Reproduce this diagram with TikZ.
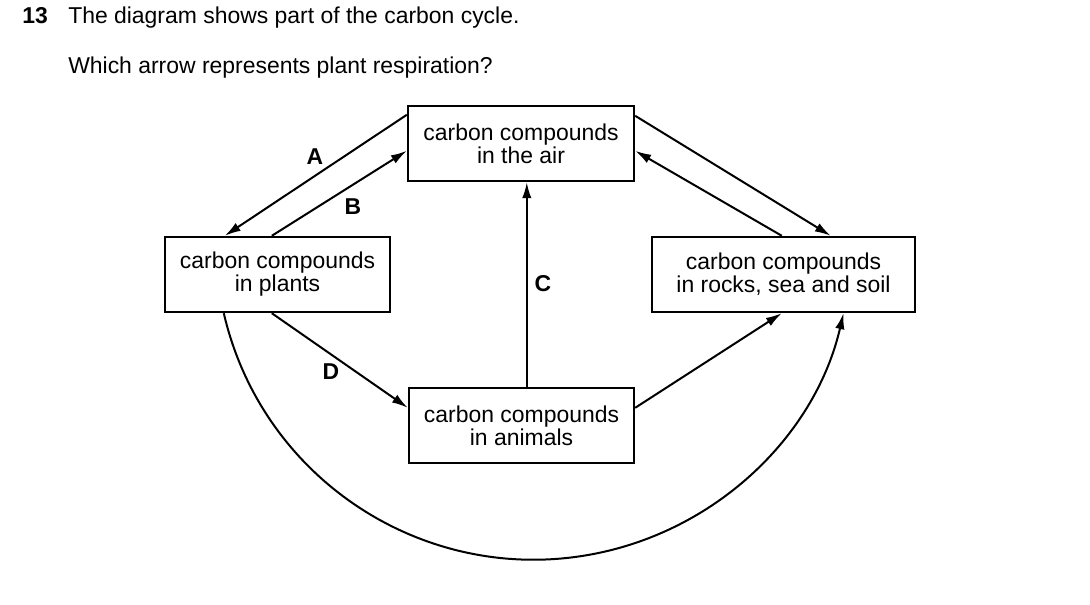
\documentclass[tikz,border=0pt]{standalone}
\usepackage{fontspec}
\setmainfont{Liberation Sans}
\usetikzlibrary{positioning,arrows.meta,calc}
\tikzstyle{box} = [draw,line width=1.8pt,rectangle,minimum height=56.25pt,align=center,inner sep=0pt]
\tikzstyle{arr} = [line width=1.5pt,-{Latex[length=12pt,width=7pt]}]
\tikzstyle{lbl} = [font=\fontsize{17.2}{17.3}\selectfont\bfseries]

\begin{document}
\begin{tikzpicture}[x=0.75pt,y=-0.75pt,font=\fontsize{17.2}{17.3}\selectfont]
\useasboundingbox (0,0) rectangle (1090,604);

\node[anchor=base west,inner sep=0pt,font=\fontsize{17.2}{17.3}\selectfont\bfseries] (num) at (22,23) {13};
\node[anchor=base west,inner sep=0pt] (q1) at (68,23) {The diagram shows part of the carbon cycle.};
\node[anchor=base west,inner sep=0pt] (q2) at (68,73) {Which arrow represents plant respiration?};

\node[box,minimum width=169.5pt] (air) at (521,143.5) {carbon compounds\\in the air};
\node[box,minimum width=168.75pt] (plants) at (277.5,274.5) {carbon compounds\\in plants};
\node[box,minimum width=197.25pt] (rocks) at (783.5,274.5) {carbon compounds\\in rocks, sea and soil};
\node[box,minimum width=168.75pt] (animals) at (521.5,425.5) {carbon compounds\\in animals};

% arrows between the boxes
\draw[arr] ($(air.north west)+(0,10)$) -- ($(plants.north west)+(61,0)$);
\draw[arr] ($(plants.north west)+(108,0)$) -- ($(air.north west)+(0,46)$);
\draw[arr] ($(air.north east)+(0,11)$) -- ($(rocks.north west)+(180,0)$);
\draw[arr] ($(rocks.north west)+(131,0)$) -- ($(air.north east)+(0,46)$);
\draw[arr] ($(animals.north west)+(119,0)$) -- ($(air.south west)+(120,0)$);
\draw[arr] ($(plants.south west)+(108,0)$) -- ($(animals.north west)+(0,21)$);
\draw[arr] ($(animals.north east)+(0,21)$) -- ($(rocks.south west)+(131,0)$);
\draw[arr] ($(plants.south west)+(60,0)$) arc[start angle=193,end angle=347,radius=238.5pt];

\node[lbl] (la) at (315,157) {A};
\node[lbl] (lb) at (353,207) {B};
\node[lbl] (lc) at (543,284) {C};
\node[lbl] (ld) at (331,372) {D};

\end{tikzpicture}
\end{document}
